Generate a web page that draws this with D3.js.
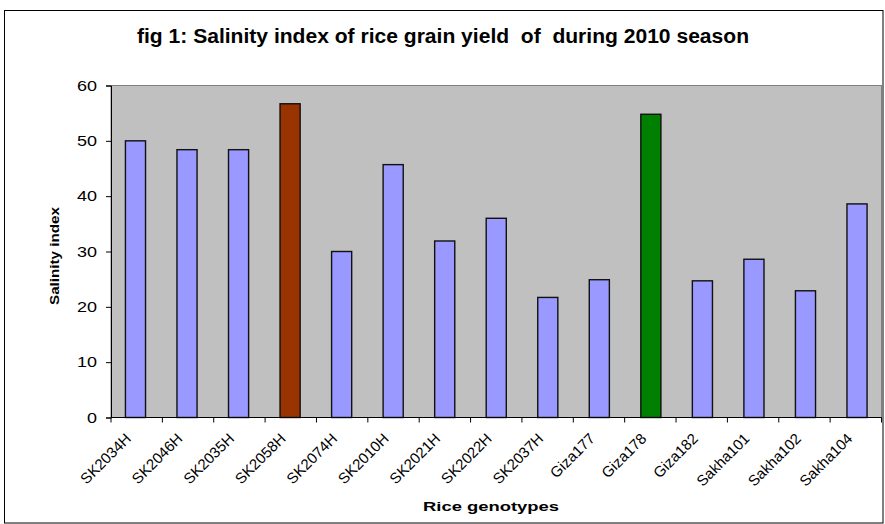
<!DOCTYPE html>
<html><head><meta charset="utf-8">
<script src="https://cdn.jsdelivr.net/npm/d3@7"></script>
<style>body{margin:0;background:#fff}svg{display:block;font-family:Arial,"Liberation Sans",sans-serif}</style>
</head><body><svg id="c" width="885" height="524"></svg>
<script>
const categories = ["SK2034H","SK2046H","SK2035H","SK2058H","SK2074H","SK2010H","SK2021H","SK2022H","SK2037H","Giza177","Giza178","Giza182","Sakha101","Sakha102","Sakha104"];
const values = [50.0,48.4,48.4,56.7,30.0,45.7,31.9,36.0,21.7,24.9,54.8,24.7,28.6,22.9,38.6];
const barColors = ["#9999FF","#9999FF","#9999FF","#993300","#9999FF","#9999FF","#9999FF","#9999FF","#9999FF","#9999FF","#008000","#9999FF","#9999FF","#9999FF","#9999FF"];
const yTicks = [0,10,20,30,40,50,60];
const title = "fig 1: Salinity index of rice grain yield  of  during 2010 season";
const xTitle = "Rice genotypes";
const yTitle = "Salinity index";

const svg = d3.select("#c");
svg.append("rect").attr("x",4.5).attr("y",10.5).attr("width",878.5).attr("height",512.5).attr("fill","#fff").attr("stroke","#000");

const m = {left:111, right:881.5, top:85.5, bottom:417.5};
const x = d3.scaleBand().domain(categories).range([m.left,m.right]).paddingInner(0.61).paddingOuter(0.28);
const y = d3.scaleLinear().domain([0,60]).range([m.bottom,m.top]);

svg.append("rect").attr("x",m.left).attr("y",m.top).attr("width",m.right-m.left).attr("height",m.bottom-m.top)
  .attr("fill","#C0C0C0").attr("stroke","#808080");

svg.selectAll("rect.bar").data(categories).join("rect").attr("class","bar")
  .attr("x",d=>x(d)).attr("width",x.bandwidth())
  .attr("y",(d,i)=>y(values[i])).attr("height",(d,i)=>y(0)-y(values[i]))
  .attr("fill",(d,i)=>barColors[i]).attr("stroke","#111").attr("stroke-width",1.4);

// y axis
const ya = svg.append("g").attr("transform",`translate(${m.left},0)`)
  .call(d3.axisLeft(y).tickValues(yTicks).tickSize(5).tickPadding(9));
ya.selectAll("text").attr("font-size",15).attr("fill","#000").attr("font-family","Arial,'Liberation Sans',sans-serif")
  .attr("textLength",d=>String(d).length*10).attr("lengthAdjust","spacingAndGlyphs");
ya.select(".domain").attr("stroke","#000");
ya.selectAll(".tick line").attr("stroke","#000");

// x axis: ticks at category boundaries
const step = (m.right-m.left)/categories.length;
const xa = svg.append("g").attr("transform",`translate(0,${m.bottom})`);
xa.append("line").attr("x1",m.left).attr("x2",m.right).attr("stroke","#000");
xa.selectAll("line.t").data(d3.range(categories.length+1)).join("line").attr("class","t")
  .attr("x1",i=>m.left+i*step).attr("x2",i=>m.left+i*step).attr("y1",0).attr("y2",5).attr("stroke","#000");
xa.selectAll("text").data(categories).join("text")
  .attr("transform",d=>`translate(${x(d)+x.bandwidth()/2-3.5},22) rotate(-45)`)
  .attr("text-anchor","end").attr("font-size",15).attr("fill","#000").text(d=>d);

svg.append("text").attr("x",443).attr("y",43).attr("text-anchor","middle").attr("font-size",20).attr("font-weight","bold")
  .attr("xml:space","preserve").style("white-space","pre").attr("textLength",612).attr("lengthAdjust","spacingAndGlyphs").text(title);
svg.append("text").attr("x",491).attr("y",510.5).attr("text-anchor","middle").attr("font-size",12).attr("font-weight","bold")
  .attr("textLength",136).attr("lengthAdjust","spacingAndGlyphs").text(xTitle);
svg.append("text").attr("transform","translate(59,256) rotate(-90)").attr("text-anchor","middle").attr("font-size",13).attr("font-weight","bold")
  .attr("textLength",98).attr("lengthAdjust","spacingAndGlyphs").text(yTitle);
</script></body></html>
